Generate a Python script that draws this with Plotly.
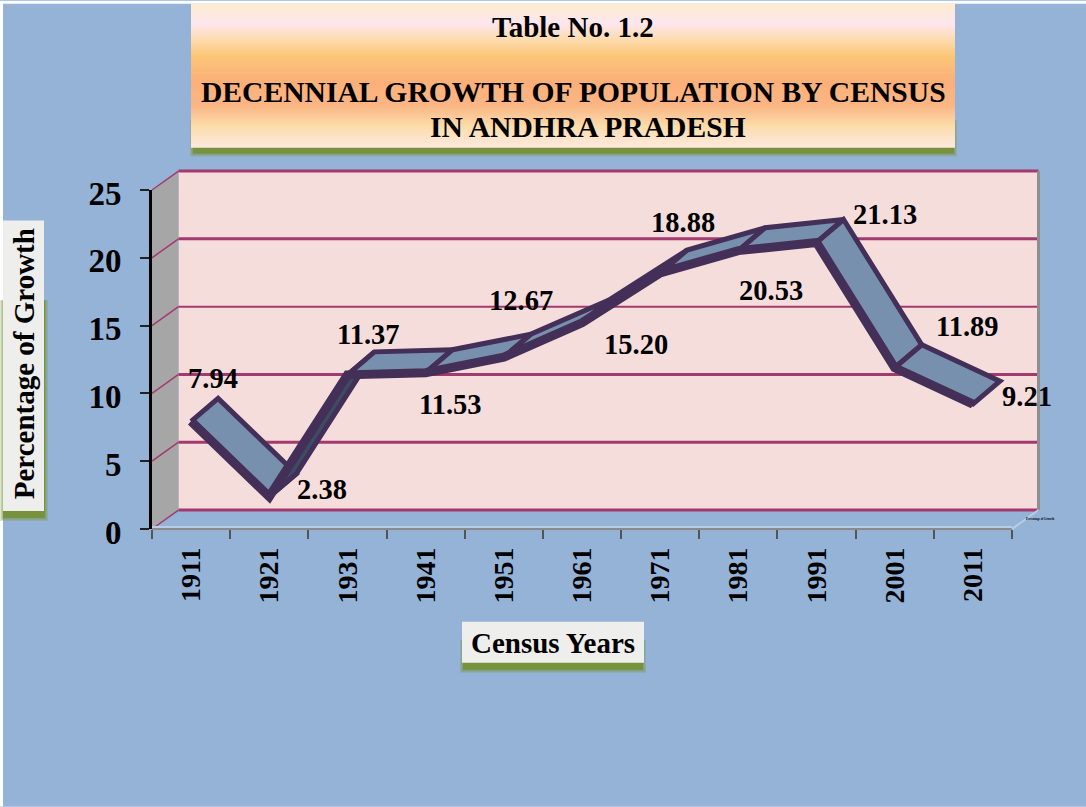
import plotly.graph_objects as go

years = ["1911", "1921", "1931", "1941", "1951", "1961", "1971", "1981", "1991", "2001", "2011"]
growth = [7.94, 2.38, 11.37, 11.53, 12.67, 15.20, 18.88, 20.53, 21.13, 11.89, 9.21]
labels = ["7.94", "2.38", "11.37", "11.53", "12.67", "15.20", "18.88", "20.53", "21.13", "11.89", "9.21"]
y_ticks = [0, 5, 10, 15, 20, 25]

W, H = 1086, 807
PL, PR, PT, PB = 152, 1012, 189.5, 529
PW, PH = PR - PL, PB - PT
UX, UY = PW / 11, PH / 25

# depth of the pseudo-3D box and of the ribbon, in axis units
WALL_DX, WALL_DY = 26.5 / UX, 19 / UY
RIB_DX, RIB_DY = 27 / UX, 23 / UY

BLUE = "#95b3d7"
WALL = "#f5dddc"
SIDE = "#a6a6a6"
GRID = "#a23a70"
DARK = "#432f57"
FACE = "#7690ae"
FACE_D = "#3d4c63"
GREEN = "#76923c"
CARD = "#eeeeec"


def px(x):
    return (x - PL) / PW


def py(y):
    return (PB - y) / PH


def rect(x0, y0, x1, y1, color, opacity=1):
    return dict(type="rect", xref="paper", yref="paper", x0=px(x0), x1=px(x1), y0=py(y0), y1=py(y1),
                fillcolor=color, line_width=0, layer="below", opacity=opacity)


def seg(xa, ya, xb, yb, color, width):
    return dict(type="line", xref="paper", yref="paper", x0=xa, y0=ya, x1=xb, y1=yb,
                line=dict(color=color, width=width), layer="below")


def poly(points, color):
    path = "M " + " L ".join(f"{a:.5f},{b:.5f}" for a, b in points) + " Z"
    return dict(type="path", xref="paper", yref="paper", path=path, fillcolor=color, line_width=0, layer="below")


def hex2rgb(h):
    return tuple(int(h[i:i + 2], 16) for i in (1, 3, 5))


def gradient(x0, x1, stops, step=1):
    out = []
    y = stops[0][0]
    end = stops[-1][0]
    while y < end:
        for (ya, ca), (yb, cb) in zip(stops, stops[1:]):
            if ya <= y <= yb:
                t = (y - ya) / (yb - ya)
                a, b = hex2rgb(ca), hex2rgb(cb)
                c = tuple(round(p + (q - p) * t) for p, q in zip(a, b))
                out.append(rect(x0, y, x1, min(y + step + 1, end), "rgb(%d,%d,%d)" % c))
                break
        y += step
    return out


def soft_shadow(x0, y0, x1, y1):
    out = [rect(x0 - i, y0, x1 + i, y1 + i, GREEN, 0.25) for i in (3, 2, 1)]
    out.append(rect(x0, y0, x1, y1, GREEN))
    return out


shapes = [rect(0, 0, W, H, "#ffffff"), rect(3, 3, W, H, BLUE)]

# title card
shapes += soft_shadow(193, 120, 954, 153)
shapes += gradient(191, 955, [(3, "#fdeccf"), (22, "#fee6ef"), (38, "#fddcb0"), (55, "#fbc677"),
                              (80, "#fbb079"), (105, "#fbb685"), (125, "#fcdcab"), (147, "#fee9e0")])
# axis title cards
shapes += soft_shadow(3, 300, 45, 518)
shapes.append(rect(3, 220, 44, 511, CARD))
shapes += soft_shadow(463, 640, 643, 670)
shapes.append(rect(462, 622, 644, 663, CARD))

# walls of the box, from the axis' own unit system
back_x0, back_x1 = WALL_DX / 11, 1 + WALL_DX / 11
back_y0, back_y1 = WALL_DY / 25, 1 + WALL_DY / 25
shapes.append(poly([(back_x0, back_y0), (back_x1, back_y0), (back_x1, back_y1), (back_x0, back_y1)], WALL))
shapes.append(poly([(0, 0), (back_x0, back_y0), (back_x0, back_y1), (0, 1)], SIDE))
for v in y_ticks:
    f = v / 25
    w = 2 if v == 15 else 3
    shapes.append(seg(0, f, back_x0, f + back_y0, GRID, 1.5))
    shapes.append(seg(back_x0, f + back_y0, back_x1, f + back_y0, GRID, w))
shapes.append(seg(back_x1, back_y0, back_x1, back_y1, "#8f8f8f", 3))
shapes.append(seg(0, 0.006, 1, 0.006, "#b9cde6", 2))
shapes.append(seg(0, 0, 1, 0, "#8a8a8a", 2))
shapes.append(seg(1, 0, back_x1, back_y0, "#b9cde6", 2))

fig = go.Figure()

# ribbon
n = len(growth)
idx = list(range(n))
for i in range(n - 1):
    steep = growth[i + 1] - growth[i] > 8
    xs = [idx[i], idx[i + 1], idx[i + 1] + RIB_DX, idx[i] + RIB_DX, idx[i]]
    ys = [growth[i], growth[i + 1], growth[i + 1] + RIB_DY, growth[i] + RIB_DY, growth[i]]
    fig.add_trace(go.Scatter(x=xs, y=ys, mode="lines", fill="toself",
                             fillcolor=FACE_D if steep else FACE,
                             line=dict(color=DARK, width=5), hoverinfo="skip",
                             showlegend=False, xaxis="x2", cliponaxis=False))
fig.add_trace(go.Scatter(x=idx, y=growth, mode="lines", line=dict(color=DARK, width=9),
                         hoverinfo="skip", showlegend=False, xaxis="x2", cliponaxis=False))
# category axis carrier
fig.add_trace(go.Scatter(x=years, y=growth, mode="lines", line=dict(width=0), hoverinfo="skip",
                         showlegend=False, xaxis="x", opacity=0))

label_pos = [(213, 378), (322, 489), (369, 334), (450, 404), (521, 300), (636, 344),
             (683, 222), (771, 290), (885, 214), (967, 326), (1027, 396)]
ann = []
for i, (t, (tx, ty)) in enumerate(zip(labels, label_pos)):
    ann.append(dict(x=i, y=growth[i], xref="x2", yref="y", text=f"<b>{t}</b>", showarrow=False,
                    xanchor="center", yanchor="middle",
                    xshift=tx - (PL + (i + 0.5) * UX), yshift=(PB - growth[i] * UY) - ty,
                    font=dict(size=28.5, color="#000000")))


def note(x, y, text, size, angle=0):
    return dict(xref="paper", yref="paper", x=px(x), y=py(y), text=f"<b>{text}</b>", showarrow=False,
                xanchor="center", yanchor="middle", textangle=angle,
                font=dict(size=size, color="#000000"))


ann += [note(573, 26, "Table No. 1.2", 29),
        note(573, 91, "DECENNIAL GROWTH OF POPULATION BY CENSUS", 29.6),
        note(588, 126, "IN ANDHRA PRADESH", 29.6),
        note(553, 643, "Census Years", 29),
        note(24, 364, "Percentage of Growth", 29, -90),
        note(1040, 519, "Percentage of Growth", 3)]

fig.update_layout(
    width=W, height=H, autosize=False,
    margin=dict(l=PL, r=W - PR, t=PT, b=H - PB, pad=0),
    paper_bgcolor=BLUE, plot_bgcolor="rgba(0,0,0,0)",
    font=dict(family="Liberation Serif", color="#000000"),
    shapes=shapes, annotations=ann, showlegend=False,
    xaxis=dict(type="category", categoryorder="array", categoryarray=years, range=[-0.5, 10.5],
               tickson="boundaries", ticks="outside", ticklen=9, tickwidth=1.5, tickcolor="#555555",
               showline=False, showgrid=False, zeroline=False, tickangle=-90,
               tickfont=dict(size=28, family="Liberation Serif", weight="bold"), ticklabelstandoff=12),
    xaxis2=dict(range=[-0.5, 10.5], overlaying="x", visible=False, fixedrange=True),
    yaxis=dict(range=[0, 25], tickvals=y_ticks, ticks="outside", ticklen=9, tickwidth=1.5, tickcolor="#222222",
               showline=True, linecolor="#000000", linewidth=3, showgrid=False, zeroline=False,
               ticklabelstandoff=12, ticklabelshift=3,
               tickfont=dict(size=33, family="Liberation Serif", weight="bold")),
)

fig.write_html("out.html", config={"displayModeBar": False},
               post_script="document.body.style.margin='0';document.documentElement.style.overflow='hidden';")
